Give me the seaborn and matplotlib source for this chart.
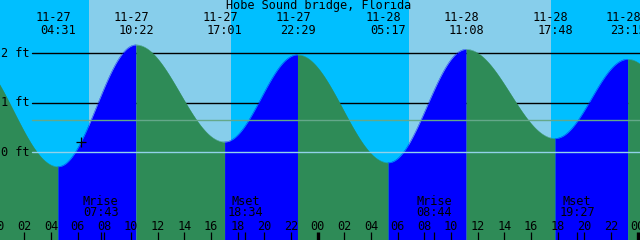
import numpy as np
import pandas as pd
import matplotlib
matplotlib.use("Agg")
import matplotlib.pyplot as plt
import matplotlib.transforms as mtrans
import seaborn as sns

# ---------------- data ----------------
title = "Hobe Sound bridge, Florida"
tide_dates = ["11-26", "11-27", "11-27", "11-27", "11-27", "11-28", "11-28", "11-28", "11-28", "11-29"]
tide_times = ["21:54", "04:31", "10:22", "17:01", "22:29", "05:17", "11:08", "17:48", "23:15", "05:55"]
tide_levels = [1.95, -0.29, 2.17, 0.21, 1.97, -0.21, 2.08, 0.28, 1.88, -0.15]
tide_labeled = [False, True, True, True, True, True, True, True, True, False]

sunrise = ["11-27 06:51", "11-28 06:51"]
sunset = ["11-27 17:30", "11-28 17:30"]

moon_names = ["Mrise", "Mset", "Mrise", "Mset"]
moon_dates = ["11-27", "11-27", "11-28", "11-28"]
moon_times = ["07:43", "18:34", "08:44", "19:27"]

level_lines = [2, 1]
level_labels = ["2 ft", "1 ft", "0 ft"]
level_label_values = [2, 1, 0]
datum_level = 0
msl_level = 0.65
now_stamp = "11-27 06:15"
hour_ticks = list(range(0, 49, 2))

# ---------------- helpers ----------------
def to_hours(date, hm):
    day = int(date.split("-")[1]) - 27
    h, m = hm.split(":")
    return day * 24 + int(h) + int(m) / 60.0

def stamp_hours(s):
    d, t = s.split()
    return to_hours(d, t)

tide_t = [to_hours(d, t) for d, t in zip(tide_dates, tide_times)]

# curve between successive extrema (cosine shape, as a tide program draws it)
rows = []
for i in range(len(tide_t) - 1):
    t0, t1 = tide_t[i], tide_t[i + 1]
    v0, v1 = tide_levels[i], tide_levels[i + 1]
    f = np.linspace(0, 1, 120)
    tt = t0 + (t1 - t0) * f
    vv = v0 + (v1 - v0) * (1 - np.cos(np.pi * f)) / 2
    phase = "rise" if v1 > v0 else "fall"
    for a, b in zip(tt, vv):
        rows.append((a, b, phase, i))
df = pd.DataFrame(rows, columns=["t", "level", "phase", "seg"])

# ---------------- figure ----------------
sns.set_style("white")
plt.rcParams["font.family"] = ["DejaVu Sans Mono", "DejaVu Sans"]
FS = 8.6

W, H = 640, 240
fig = plt.figure(figsize=(6.4, 2.4), dpi=100)
ax = fig.add_axes([0, 0, 1, 1])
px_per_h = 13.3333
x0 = -2.3
y0ft, px_per_ft = 152.3, 49.5
ax.set_xlim((0 - x0) / px_per_h, (W - x0) / px_per_h)
ax.set_ylim((y0ft - H) / px_per_ft, y0ft / px_per_ft)
ymin, ymax = ax.get_ylim()

night = "#00BFFF"
day = "#87CEEB"
rise_c = "#0000FF"
fall_c = "#2E8B57"

ax.set_facecolor(night)
ax.axvspan(*ax.get_xlim(), color=night, lw=0, zorder=0)
for r, s in zip(sunrise, sunset):
    ax.axvspan(stamp_hours(r), stamp_hours(s), color=day, lw=0, zorder=0.5)

# level lines behind the water
for lv in level_lines:
    ax.axhline(lv, xmin=32 / W, xmax=1, color="black", lw=1.0, zorder=1)

# water fill
for seg, g in df.groupby("seg"):
    c = rise_c if g["phase"].iloc[0] == "rise" else fall_c
    ax.fill_between(g["t"], ymin, g["level"], color=c, lw=0, zorder=2)
sns.lineplot(data=df, x="t", y="level", hue="phase", units="seg", estimator=None,
             palette={"rise": rise_c, "fall": fall_c}, legend=False, lw=0.25,
             sort=False, ax=ax, zorder=2.5)

# datum and mean sea level lines over the water
ax.axhline(datum_level, xmin=32 / W, xmax=1, color="#92d2ea", lw=1.0, zorder=3)
ax.axhline(msl_level, xmin=32 / W, xmax=1, color="#64a88a", lw=1.0, zorder=3)

# level labels
for lab, v in zip(level_labels, level_label_values):
    ax.text(1.0 / W, v, lab, transform=ax.get_yaxis_transform(), ha="left",
            va="center", fontsize=FS, color="black", zorder=5)

# current-time mark
tn = stamp_hours(now_stamp)
ax.plot([tn], [np.interp(tn, df["t"], df["level"])], marker="+", ms=6.5,
        mew=0.9, color="black", zorder=4)

# title
ax.text(0.498, 1 - 6 / H, title, transform=ax.transAxes, ha="center",
        va="center", fontsize=FS, color="black", zorder=5)

# tide event labels
date_tr = mtrans.offset_copy(ax.get_xaxis_transform(), fig=fig, x=-4.5, y=0, units="dots")
for t, d, tm, show in zip(tide_t, tide_dates, tide_times, tide_labeled):
    if not show:
        continue
    ax.text(t, 1 - 17.5 / H, d, transform=date_tr, ha="center", va="center",
            fontsize=FS, color="black", zorder=5)
    ax.text(t, 1 - 30.5 / H, tm, transform=ax.get_xaxis_transform(), ha="center",
            va="center", fontsize=FS, color="black", zorder=5)

# moon labels and ticks
xt = ax.get_xaxis_transform()
moon_t = [to_hours(d, t) for d, t in zip(moon_dates, moon_times)]
for name, t, tm in zip(moon_names, moon_t, moon_times):
    ax.text(t, 1 - 201.5 / H, name, transform=xt, ha="center", va="center",
            fontsize=FS, color="black", zorder=5)
    ax.text(t, 1 - 213 / H, tm, transform=xt, ha="center", va="center",
            fontsize=FS, color="black", zorder=5)
ax.vlines(moon_t, 0, 8 / H, transform=xt, color="black", lw=0.9, zorder=5)

# hour ticks and labels
for h in hour_ticks:
    mid = (h % 24 == 0)
    ax.vlines([h], 0, 8 / H, transform=xt, color="black",
              lw=2.4 if mid else 0.9, zorder=5)
    ax.text(h, 1 - 226 / H, f"{h % 24:02d}", transform=xt, ha="center",
            va="center", fontsize=FS, color="black", zorder=5)

ax.axis("off")
fig.savefig("out.png", dpi=100)
